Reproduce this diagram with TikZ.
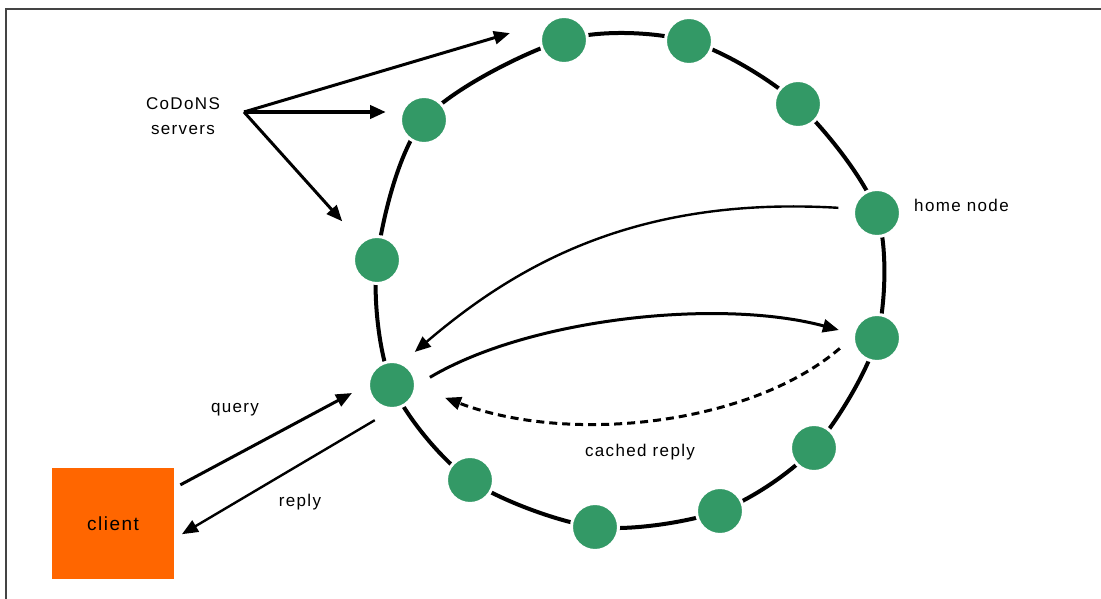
\documentclass[tikz,border=0pt]{standalone}
\usepackage{fontspec}
\setmainfont{Liberation Sans}
\newfontfamily\labelfont[LetterSpace=8]{Liberation Sans}
\usetikzlibrary{arrows.meta,backgrounds}
\definecolor{servergreen}{HTML}{339966}
\definecolor{clientorange}{HTML}{FF6600}
\definecolor{framegray}{HTML}{444444}

\begin{document}
\begin{tikzpicture}[x=1pt,y=-1pt,
  server/.style={circle,fill=servergreen,draw=white,line width=3pt,minimum size=47pt,inner sep=0pt},
  lbl/.style={font=\labelfont\fontsize{17}{25}\selectfont,inner sep=0pt},
  ring/.style={line width=4pt},
  msg/.style={-{Triangle[length=16pt,width=13pt]},line width=3pt},
  msgthin/.style={-{Triangle[length=16pt,width=13pt]},line width=2.4pt}]
  \useasboundingbox (0,0) rectangle (1101,599);
  \draw[framegray,line width=2pt] (6,599) |- (1101,9);
  \foreach \n/\x/\y in {1/564/40,2/689/41,3/798/104,4/877/213,5/877/338,6/814/448,
                        7/720/511,8/595/527,9/470/480,10/392/385,11/377/260,12/424/120} {
    \node[server] (s\n) at (\x,\y) {};
  }
  \begin{scope}[on background layer]
    \draw[ring] plot[smooth cycle] coordinates {(s1.center) (s2.center) (s3.center) (s4.center)
      (s5.center) (s6.center) (s7.center) (s8.center) (s9.center) (s10.center) (s11.center) (s12.center)};
  \end{scope}
  \node[fill=clientorange,minimum width=122pt,minimum height=111pt,lbl,font=\labelfont\fontsize{19}{23}\selectfont] (client) at (113,523.5) {client};
  \node[lbl,align=center] (codons) at (183,116) {CoDoNS\\servers};
  \node[lbl,anchor=west] (homelbl) at (914,205) {home node};
  \node[lbl] (querylbl) at (235,410) {query};
  \node[lbl] (replylbl) at (300,502) {reply};
  \node[lbl] (cachedlbl) at (640,452) {cached reply};
  \coordinate (fan) at (244,112);
  \draw[msg,shorten >=38pt] (fan) -- (s1.north west);
  \draw[msg,line width=4pt,shorten >=13pt] (fan) -- (fan -| s12.west);
  \draw[msg,shorten >=27pt] (fan) -- (s11);
  \draw[msg,shorten <=7pt,shorten >=17pt] (client.30) -- (s10.west);
  \draw[msgthin,shorten <=20pt,shorten >=9pt] (s10.south) -- (client.-14);
  \draw[msgthin,shorten <=14pt,shorten >=16pt] (s4.170) .. controls (640,196) and (520,262) .. (s10.65);
  \draw[msg,shorten <=15pt,shorten >=14pt] (s10.0) .. controls (530,318) and (720,298) .. (s5.170);
  \draw[msg,dash pattern=on 8pt off 5pt,shorten <=16pt,shorten >=30pt] (s5.180) .. controls (750,425) and (570,445) .. (s10.355);
\end{tikzpicture}
\end{document}
